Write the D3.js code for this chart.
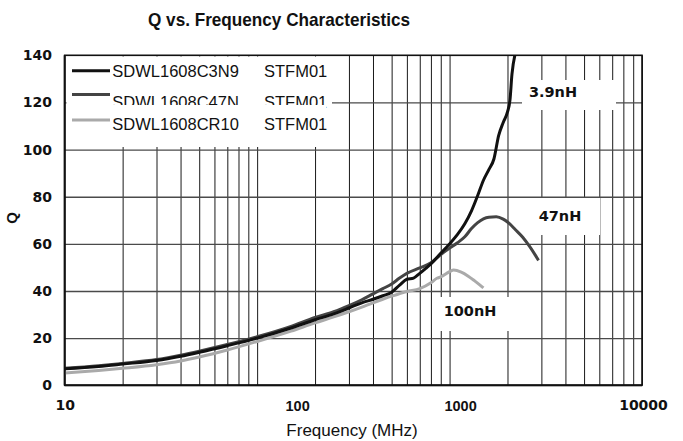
<!DOCTYPE html>
<html>
<head>
<meta charset="utf-8">
<script src="https://cdn.jsdelivr.net/npm/d3@7"></script>
<style>
    html, body { margin: 0; padding: 0; background: #fff; }
    svg { display: block; }
</style>
</head>
<body>
<div id="chart"></div>
<script>
// Data (frequency in MHz, Q)
const freq3N9 = [10, 15, 20, 30, 40, 50, 70, 100, 150, 200, 250, 300, 350, 400, 450, 500, 550, 600, 650, 700, 750, 800, 900, 1000, 1100, 1200, 1300, 1400, 1500, 1600, 1700, 1800, 1900, 2000, 2060, 2110, 2190];
const q3N9 = [7.0, 8.0, 9.0, 10.5, 12.3, 14.0, 16.8, 20.0, 24.3, 27.8, 30.3, 32.8, 35.0, 36.5, 38.0, 39.5, 42.5, 45.0, 45.5, 47.5, 49.5, 51.5, 56.0, 60.0, 64.0, 68.5, 74.0, 80.5, 87.0, 91.5, 96.0, 106.0, 111.5, 116.0, 121.0, 132.0, 140.5];

const freq47N = [10, 15, 20, 30, 40, 50, 70, 100, 150, 200, 250, 300, 350, 400, 450, 500, 550, 600, 700, 800, 900, 1000, 1100, 1200, 1300, 1400, 1500, 1600, 1750, 1900, 2000, 2200, 2400, 2600, 2800, 2900];
const q47N = [7.2, 8.3, 9.3, 10.9, 12.8, 14.5, 17.3, 20.6, 25.0, 28.8, 31.2, 33.8, 36.3, 38.8, 41.0, 43.0, 45.5, 47.5, 49.8, 52.0, 55.5, 58.2, 60.5, 63.0, 66.5, 69.0, 70.6, 71.3, 71.5, 70.5, 69.3, 66.0, 62.8, 59.0, 55.0, 53.0];

const freqR10 = [10, 15, 20, 30, 40, 50, 70, 100, 150, 200, 250, 300, 350, 400, 450, 500, 600, 700, 800, 860, 900, 1000, 1050, 1150, 1250, 1350, 1450, 1500];
const qR10 = [5.2, 6.3, 7.2, 8.7, 10.3, 12.0, 15.0, 18.6, 23.0, 26.5, 29.0, 31.2, 33.2, 35.0, 36.5, 37.8, 39.8, 41.0, 43.5, 45.4, 46.0, 48.2, 48.9, 48.0, 46.3, 44.3, 42.3, 41.3];

const seriesNames = ['SDWL1608C3N9', 'SDWL1608C47N', 'SDWL1608CR10'];
const seriesCodes = ['STFM01', 'STFM01', 'STFM01'];
const curveLabels = ['3.9nH', '47nH', '100nH'];

const xTickValues = [10, 100, 1000, 10000];
const yTickValues = [0, 20, 40, 60, 80, 100, 120, 140];

// Layout
const WIDTH = 683;
const HEIGHT = 441;
const PLOT = { left: 64.7, right: 642, top: 55.3, bottom: 385.3 };
const COLORS = ['#111111', '#444444', '#aaaaaa'];

const svg = d3.select('#chart').append('svg')
    .attr('width', WIDTH)
    .attr('height', HEIGHT)
    .style('background', '#fff');

const x = d3.scaleLog().domain([10, 10000]).range([PLOT.left, PLOT.right]);
const y = d3.scaleLinear().domain([0, 140]).range([PLOT.bottom, PLOT.top]);

// Vertical grid: every 1..9 step of each decade
const minorTicks = [];
[10, 100, 1000].forEach(dec => {
    for (let k = 2; k <= 10; k++) minorTicks.push(dec * k);
});

svg.append('g')
    .attr('transform', `translate(0,${PLOT.bottom})`)
    .call(d3.axisBottom(x).tickValues(minorTicks).tickSize(-(PLOT.bottom - PLOT.top)).tickFormat(''))
    .call(g => g.select('.domain').remove())
    .call(g => g.selectAll('line').attr('stroke', '#1a1a1a').attr('stroke-width', 1));

// Horizontal grid
svg.append('g')
    .attr('transform', `translate(${PLOT.left},0)`)
    .call(d3.axisLeft(y).tickValues([20, 40, 60, 80, 100, 120]).tickSize(-(PLOT.right - PLOT.left)).tickFormat(''))
    .call(g => g.select('.domain').remove())
    .call(g => g.selectAll('line').attr('stroke', '#4a4a4a').attr('stroke-width', 1.3));

// White boxes behind the legend and the curve labels (they hide the grid)
svg.append('rect')
    .attr('x', 66.5).attr('y', 56.5)
    .attr('width', 265.5).attr('height', 90.5)
    .attr('fill', '#fff');

const labelBoxes = [
    { x: 522, y: 80, w: 94, h: 30, tx: 553, ty: 91.7 },
    { x: 522, y: 198, w: 78, h: 37, tx: 560, ty: 215.5 },
    { x: 437, y: 297, w: 75, h: 34, tx: 470, ty: 311 }
];
labelBoxes.forEach((b, i) => {
    svg.append('rect')
        .attr('x', b.x).attr('y', b.y)
        .attr('width', b.w).attr('height', b.h)
        .attr('fill', '#fff');
    svg.append('text')
        .attr('x', b.tx).attr('y', b.ty)
        .attr('dy', '0.36em')
        .attr('text-anchor', 'middle')
        .attr('font-family', '"DejaVu Sans", sans-serif')
        .attr('font-weight', 'bold')
        .attr('font-size', '14.5px')
        .attr('fill', '#111')
        .text(curveLabels[i]);
});

// Plot frame
svg.append('rect')
    .attr('x', PLOT.left).attr('y', PLOT.top)
    .attr('width', PLOT.right - PLOT.left)
    .attr('height', PLOT.bottom - PLOT.top)
    .attr('fill', 'none')
    .attr('stroke', '#111')
    .attr('stroke-width', 1.6);

// Curves
svg.append('clipPath').attr('id', 'plot-clip')
    .append('rect')
    .attr('x', PLOT.left).attr('y', PLOT.top)
    .attr('width', PLOT.right - PLOT.left)
    .attr('height', PLOT.bottom - PLOT.top);

const series = [
    { f: freq3N9, q: q3N9 },
    { f: freq47N, q: q47N },
    { f: freqR10, q: qR10 }
];

const line = d3.line()
    .x(d => x(d[0]))
    .y(d => y(d[1]))
    .curve(d3.curveMonotoneX);

// draw light first so the dark curves sit on top
[2, 1, 0].forEach(i => {
    const pts = series[i].f.map((f, j) => [f, series[i].q[j]]);
    svg.append('path')
        .datum(pts)
        .attr('clip-path', 'url(#plot-clip)')
        .attr('d', line)
        .attr('fill', 'none')
        .attr('stroke', COLORS[i])
        .attr('stroke-width', 3)
        .attr('stroke-linejoin', 'round');
});

// Legend (the second entry is cut off at its bottom in the original)
const legendTextY = [70.8, 102.5, 124.5];
const legendLineY = [70.8, 94.5, 120];
seriesNames.forEach((name, i) => {
    if (i === 2) {
        svg.append('rect')
            .attr('x', 66.5).attr('y', 105)
            .attr('width', 260).attr('height', 40)
            .attr('fill', '#fff');
    }
    svg.append('line')
        .attr('x1', 72).attr('x2', 110)
        .attr('y1', legendLineY[i]).attr('y2', legendLineY[i])
        .attr('stroke', COLORS[i])
        .attr('stroke-width', 3);
    [[112.3, name], [264, seriesCodes[i]]].forEach(([tx, str]) => {
        svg.append('text')
            .attr('x', tx).attr('y', legendTextY[i])
            .attr('dy', '0.36em')
            .attr('font-family', 'Arial, "Liberation Sans", sans-serif')
            .attr('font-size', '16.5px')
            .attr('fill', '#111')
            .text(str);
    });
});

// Y axis tick labels
svg.append('g')
    .attr('transform', `translate(${PLOT.left},0)`)
    .call(d3.axisLeft(y).tickValues(yTickValues).tickSize(0).tickPadding(12.7).tickFormat(d3.format('d')))
    .call(g => g.select('.domain').remove())
    .call(g => g.selectAll('text')
        .attr('font-family', '"DejaVu Sans", sans-serif')
        .attr('font-weight', 'bold')
        .attr('font-size', '14px')
        .attr('fill', '#111'));

// X axis tick labels (the original places "100" and "1000" a bit to the right)
const labelNudge = { 10: 0, 100: 40, 1000: 10.5, 10000: 1 };
svg.append('g')
    .attr('transform', `translate(0,${PLOT.bottom})`)
    .call(d3.axisBottom(x).tickValues(xTickValues).tickSize(0).tickPadding(15).tickFormat(d3.format('d')))
    .call(g => g.select('.domain').remove())
    .call(g => g.selectAll('text')
        .attr('dx', d => labelNudge[d])
        .attr('font-family', d => (d === 100 || d === 1000)
            ? '"Liberation Sans Narrow", "Arial Narrow", Arial, sans-serif'
            : '"DejaVu Sans", sans-serif')
        .attr('font-weight', 'bold')
        .attr('font-size', d => (d === 100 || d === 1000) ? '14.5px' : '14px')
        .attr('fill', '#111'));

// Axis frame lines on left and bottom
svg.append('line')
    .attr('x1', PLOT.left).attr('x2', PLOT.right)
    .attr('y1', PLOT.bottom).attr('y2', PLOT.bottom)
    .attr('stroke', '#111').attr('stroke-width', 2);
svg.append('line')
    .attr('x1', PLOT.left).attr('x2', PLOT.left)
    .attr('y1', PLOT.top).attr('y2', PLOT.bottom)
    .attr('stroke', '#111').attr('stroke-width', 2);

// Titles
svg.append('text')
    .attr('x', 279).attr('y', 26)
    .attr('text-anchor', 'middle')
    .attr('font-family', 'Arial, "Liberation Sans", sans-serif')
    .attr('font-weight', 'bold')
    .attr('font-size', '19px')
    .attr('textLength', 262)
    .attr('lengthAdjust', 'spacingAndGlyphs')
    .attr('fill', '#111')
    .text('Q vs. Frequency Characteristics');

svg.append('text')
    .attr('x', 352).attr('y', 436)
    .attr('text-anchor', 'middle')
    .attr('font-family', 'Arial, "Liberation Sans", sans-serif')
    .attr('font-size', '17px')
    .attr('fill', '#111')
    .text('Frequency (MHz)');

svg.append('text')
    .attr('transform', 'translate(12,218) rotate(-90)')
    .attr('dy', '0.36em')
    .attr('text-anchor', 'middle')
    .attr('font-family', 'Arial, "Liberation Sans", sans-serif')
    .attr('font-weight', 'bold')
    .attr('font-size', '15px')
    .attr('fill', '#111')
    .text('Q');
</script>
</body>
</html>
